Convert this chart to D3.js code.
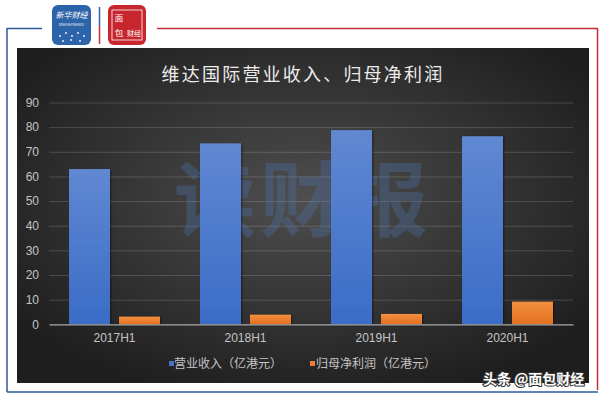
<!DOCTYPE html>
<html>
<head>
<meta charset="utf-8">
<script src="https://cdn.jsdelivr.net/npm/d3@7/dist/d3.min.js"></script>
<style>
  html, body { margin: 0; padding: 0; background: #ffffff; }
  svg { display: block; font-family: "Noto Sans CJK SC", "Liberation Sans", Arial, sans-serif; }
</style>
</head>
<body>
<svg id="chart" width="606" height="400"></svg>
<script>
const categories = ["2017H1", "2018H1", "2019H1", "2020H1"];
const revenue = [63.0, 73.4, 78.8, 76.3];
const netProfit = [3.1, 3.9, 4.2, 9.2];
const seriesNames = ["营业收入（亿港元）", "归母净利润（亿港元）"];
const yTicks = [0, 10, 20, 30, 40, 50, 60, 70, 80, 90];
const title = "维达国际营业收入、归母净利润";

const svg = d3.select("#chart");
const defs = svg.append("defs");

// panel background gradient
const rg = defs.append("radialGradient").attr("id", "bg")
  .attr("cx", "50%").attr("cy", "45%").attr("r", "62%");
rg.append("stop").attr("offset", "0%").attr("stop-color", "#4e4e4e");
rg.append("stop").attr("offset", "100%").attr("stop-color", "#1e1e1e");

const gBlue = defs.append("linearGradient").attr("id", "gBlue").attr("x1", 0).attr("y1", 0).attr("x2", 0).attr("y2", 1);
gBlue.append("stop").attr("offset", "0%").attr("stop-color", "#6088d2");
gBlue.append("stop").attr("offset", "100%").attr("stop-color", "#3b6cc6");
const gOr = defs.append("linearGradient").attr("id", "gOr").attr("x1", 0).attr("y1", 0).attr("x2", 0).attr("y2", 1);
gOr.append("stop").attr("offset", "0%").attr("stop-color", "#f4903f");
gOr.append("stop").attr("offset", "100%").attr("stop-color", "#e2701f");

const shadow = defs.append("filter").attr("id", "shadow").attr("x", "-20%").attr("y", "-20%").attr("width", "140%").attr("height", "140%");
shadow.append("feDropShadow").attr("dx", 1).attr("dy", 1).attr("stdDeviation", 1.2).attr("flood-color", "#000").attr("flood-opacity", 0.5);

// outer frame
svg.append("line").attr("x1", 7).attr("x2", 42).attr("y1", 28.5).attr("y2", 28.5).attr("stroke", "#2a5a9a").attr("stroke-width", 1.5);
svg.append("line").attr("x1", 7).attr("x2", 7).attr("y1", 28).attr("y2", 392).attr("stroke", "#2a5a9a").attr("stroke-width", 1.5);
svg.append("line").attr("x1", 7).attr("x2", 598).attr("y1", 392).attr("y2", 392).attr("stroke", "#2a5a9a").attr("stroke-width", 1.5);
svg.append("line").attr("x1", 157).attr("x2", 597.5).attr("y1", 28.5).attr("y2", 28.5).attr("stroke", "#c0303a").attr("stroke-width", 1.5);
svg.append("line").attr("x1", 597.5).attr("x2", 597.5).attr("y1", 28).attr("y2", 390).attr("stroke", "#c0303a").attr("stroke-width", 1.5);

// logos
const lb = svg.append("g");
lb.append("rect").attr("x", 52).attr("y", 5).attr("width", 39).attr("height", 40).attr("rx", 6).attr("fill", "#2d63a8");
lb.append("text").attr("x", 71.5).attr("y", 18).attr("text-anchor", "middle").attr("font-size", 8).attr("font-style", "italic").attr("fill", "#fff").text("新华财经");
lb.append("text").attr("x", 71.5).attr("y", 26).attr("text-anchor", "middle").attr("font-size", 3.2).attr("fill", "#fff").text("XINHUA FINANCE");
[[60,36],[66,33],[72,36],[78,33],[84,36],[63,41],[71,40],[80,41]].forEach(p => {
  lb.append("circle").attr("cx", p[0]).attr("cy", p[1]).attr("r", 0.9).attr("fill", "#fff");
});
svg.append("line").attr("x1", 99.5).attr("x2", 99.5).attr("y1", 7).attr("y2", 26).attr("stroke", "#2d63a8").attr("stroke-width", 1.5);
svg.append("line").attr("x1", 99.5).attr("x2", 99.5).attr("y1", 26).attr("y2", 44).attr("stroke", "#c0303a").attr("stroke-width", 1.5);
const lr = svg.append("g");
lr.append("rect").attr("x", 108).attr("y", 5).attr("width", 38).attr("height", 40).attr("rx", 6).attr("fill", "#c8262e");
lr.append("rect").attr("x", 112).attr("y", 10).attr("width", 30).attr("height", 30).attr("fill", "none").attr("stroke", "#fff").attr("stroke-width", 0.8);
lr.append("text").attr("x", 119).attr("y", 21).attr("text-anchor", "middle").attr("font-size", 8.5).attr("fill", "#fff").text("面");
lr.append("text").attr("x", 119).attr("y", 36).attr("text-anchor", "middle").attr("font-size", 8.5).attr("fill", "#fff").text("包");
lr.append("text").attr("x", 134).attr("y", 36).attr("text-anchor", "middle").attr("font-size", 7).attr("fill", "#fff").text("财经");

// panel
svg.append("rect").attr("x", 17).attr("y", 48).attr("width", 572).attr("height", 335).attr("fill", "url(#bg)");

// title
svg.append("text").attr("x", 303).attr("y", 81).attr("text-anchor", "middle")
  .attr("font-size", 18).attr("letter-spacing", 2.2).attr("fill", "#ececec").text(title);

const x0 = 49, x1 = 573;
const y = d3.scaleLinear().domain([0, 90]).range([324.3, 102.5]);
const x = d3.scaleBand().domain(categories).range([x0, x1]).paddingInner(0).paddingOuter(0);
const xs = d3.scaleBand().domain([0, 1]).range([0, 91]).paddingInner(0.18);

// gridlines
const yAxis = d3.axisLeft(y).tickValues(yTicks).tickSize(-(x1 - x0)).tickFormat(d3.format("d")).tickPadding(10);
const ga = svg.append("g").attr("transform", `translate(${x0},0)`).call(yAxis);
ga.select(".domain").remove();
ga.selectAll(".tick line").attr("stroke", "#ffffff").attr("stroke-opacity", d => d === 0 ? 0 : 0.16).attr("stroke-width", 1);
ga.selectAll(".tick text").attr("fill", "#c4c4c4").attr("font-size", 12).attr("font-family", "'Liberation Sans', Arial, sans-serif");

// watermark
svg.append("text").attr("x", 303).attr("y", 230).attr("text-anchor", "middle")
  .attr("font-size", 82).attr("font-weight", "bold").attr("letter-spacing", 4)
  .attr("fill", "#4f76b0").attr("fill-opacity", 0.32).text("读财报");

// bars
const groups = svg.append("g").selectAll("g").data(categories).join("g")
  .attr("transform", d => `translate(${x(d) + (x.bandwidth() - 91) / 2},0)`);
groups.append("rect")
  .attr("x", xs(0)).attr("width", xs.bandwidth())
  .attr("y", (d, i) => y(revenue[i])).attr("height", (d, i) => y(0) - y(revenue[i]))
  .attr("fill", "url(#gBlue)").attr("filter", "url(#shadow)");
groups.append("rect")
  .attr("x", xs(1)).attr("width", xs.bandwidth())
  .attr("y", (d, i) => y(netProfit[i])).attr("height", (d, i) => y(0) - y(netProfit[i]))
  .attr("fill", "url(#gOr)").attr("filter", "url(#shadow)");

// x axis
const xAxis = d3.axisBottom(x).tickSize(0).tickPadding(9);
const gx = svg.append("g").attr("transform", `translate(0,${y(0)})`).call(xAxis);
gx.select(".domain").attr("stroke", "#a8a8a8").attr("stroke-width", 1.2);
gx.selectAll(".tick text").attr("fill", "#c4c4c4").attr("font-size", 12).attr("font-family", "'Liberation Sans', Arial, sans-serif");

// legend
const legend = [
  { name: seriesNames[0], color: "#4472c4", sx: 169, tx: 174 },
  { name: seriesNames[1], color: "#ed7d31", sx: 310, tx: 316 }
];
legend.forEach(l => {
  svg.append("rect").attr("x", l.sx).attr("y", 361).attr("width", 5).attr("height", 5).attr("fill", l.color);
  svg.append("text").attr("x", l.tx).attr("y", 368).attr("font-size", 12).attr("fill", "#c4c4c4").text(l.name);
});

// bottom-right watermark
svg.append("text").attr("x", 483).attr("y", 384).attr("font-size", 14).attr("font-weight", "bold")
  .attr("fill", "#ffffff").attr("stroke", "#333").attr("stroke-width", 2).attr("paint-order", "stroke")
  .text("头条 @面包财经");
</script>
</body>
</html>
